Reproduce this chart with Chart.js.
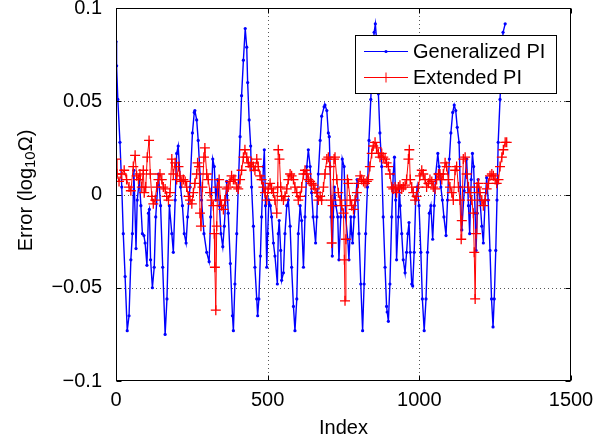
<!DOCTYPE html>
<html>
<head>
<meta charset="utf-8">
<script src="https://cdn.jsdelivr.net/npm/chart.js@4.4.1/dist/chart.umd.min.js"></script>
<style>
html, body { margin: 0; padding: 0; background: #fff; }
#wrap { width: 604px; height: 441px; }
</style>
</head>
<body>
<div id="wrap"><canvas id="errChart" width="604" height="441"></canvas></div>
<script>
// Error of the two PI estimators against sample index (MATLAB-style figure).

const BLUE = '#0000ff';
const RED = '#ff0000';
const FONT = "'Liberation Sans', Arial, Helvetica, sans-serif";

const X_TICKS = [0, 500, 1000, 1500];
const X_TICK_LABELS = ['0', '500', '1000', '1500'];
const Y_TICKS = [-0.1, -0.05, 0, 0.05, 0.1];
const Y_TICK_LABELS = ['\u22120.1', '\u22120.05', '0', '0.05', '0.1'];
const SERIES_NAMES = ['Generalized PI', 'Extended PI'];
const X_TITLE = 'Index';
const Y_TITLE = ['Error (log', '10', '\u03A9)'];   // main, subscript, rest

// Generalized PI
const GEN_IDX = [0,2,6,13,19,24,30,37,43,49,
  54,59,66,70,77,82,87,92,96,102,
  107,110,114,120,126,131,140,147,154,162,
  168,176,184,189,195,200,205,213,219,225,
  231,236,244,252,258,260,266,271,277,282,
  290,299,307,312,319,324,329,335,341,346,
  352,357,365,370,377,384,387,392,398,403,
  409,414,420,426,431,434,439,444,447,453,
  458,464,467,471,476,480,486,489,493,497,
  500,504,509,513,519,524,532,535,538,543,
  546,552,557,563,568,574,579,585,590,596,
  601,607,612,618,623,629,634,640,645,650,
  658,662,667,673,678,686,689,695,700,703,
  706,709,713,716,720,725,731,735,741,746,
  752,757,764,768,774,777,780,785,790,795,
  801,807,813,818,823,829,834,840,845,851,
  855,860,865,870,876,881,887,892,894,898,
  903,909,914,918,922,925,931,934,937,942,
  947,953,958,962,966,970,975,978,983,988,
  993,999,1005,1010,1016,1022,1027,1033,1038,1044,
  1049,1054,1061,1065,1071,1076,1081,1088,1093,1099,
  1104,1110,1115,1120,1125,1131,1135,1140,1148,1156,
  1162,1166,1171,1175,1179,1184,1187,1191,1194,1200,
  1206,1211,1217,1222,1227,1233,1238,1243,1247,1252,
  1256,1260,1266,1272,1276,1283];
const GEN_ERR = [0.082,0.069,0.051,0.028,0.004,-0.021,-0.044,-0.073,-0.065,-0.035,
  -0.021,0.013,-0.029,-0.003,0.008,-0.006,-0.021,-0.022,-0.026,-0.038,
  -0.010,-0.008,-0.035,-0.050,-0.039,-0.012,0.011,-0.006,-0.039,-0.075,
  -0.056,-0.006,-0.021,-0.031,-0.003,0.022,0.026,0.004,-0.006,-0.021,
  -0.026,-0.012,0.004,0.033,0.044,0.045,0.040,0.029,0.011,-0.003,
  -0.021,-0.031,-0.036,-0.012,0.019,0.015,-0.003,0.008,-0.006,-0.021,
  -0.028,-0.017,0.007,-0.010,-0.037,-0.065,-0.073,-0.048,-0.021,0.004,
  0.031,0.053,0.072,0.089,0.079,0.060,0.040,0.026,0.004,-0.017,
  -0.039,-0.056,-0.065,-0.056,-0.033,-0.012,0.015,0.024,-0.006,-0.039,
  -0.021,-0.003,-0.006,-0.012,-0.026,-0.033,-0.048,-0.021,-0.014,-0.030,
  -0.046,-0.042,-0.021,-0.006,-0.003,-0.017,-0.039,-0.060,-0.073,-0.056,
  -0.021,-0.006,-0.014,-0.039,-0.012,0.015,0.024,0.015,0.001,-0.012,
  -0.026,-0.012,0.011,0.029,0.042,0.047,0.048,0.045,0.033,0.031,
  0.015,-0.012,-0.033,-0.012,0.004,-0.006,-0.012,-0.035,-0.012,0.019,
  0.015,-0.012,-0.024,-0.035,-0.012,-0.021,-0.026,-0.012,-0.003,0.008,
  -0.021,-0.048,-0.073,-0.048,-0.021,0.004,0.029,0.051,0.072,0.087,
  0.0915,0.081,0.054,0.033,0.015,-0.012,-0.039,-0.060,-0.063,-0.068,
  -0.048,-0.012,0.011,0.020,-0.003,-0.035,-0.012,0.004,-0.006,-0.021,
  -0.035,-0.042,-0.031,-0.021,-0.015,-0.031,-0.048,-0.049,-0.031,-0.003,
  0.004,-0.006,-0.031,-0.056,-0.073,-0.056,-0.031,-0.010,-0.006,-0.024,
  -0.006,0.011,0.022,0.015,0.004,-0.003,-0.012,-0.022,-0.003,0.019,
  0.033,0.044,0.048,0.045,0.036,0.028,0.004,-0.019,0.002,0.019,
  -0.006,-0.021,0.008,0.022,0.015,-0.010,-0.030,-0.010,0.008,-0.003,
  -0.017,-0.026,-0.003,0.009,-0.003,-0.030,-0.056,-0.071,-0.056,-0.030,
  -0.003,0.028,0.051,0.072,0.087,0.0915];

// Extended PI
const EXT_IDX = [0,3,10,19,27,35,43,49,57,63,
  68,74,79,85,90,93,98,103,109,113,
  118,123,129,134,140,145,151,156,162,167,
  173,178,184,189,195,200,206,211,217,222,
  228,233,239,244,250,255,260,266,269,274,
  277,280,285,290,293,299,304,310,315,321,
  324,326,329,332,335,340,344,348,354,359,
  365,370,376,381,387,392,398,403,409,414,
  420,425,431,436,442,447,453,458,464,469,
  475,480,486,491,497,502,508,513,519,524,
  530,533,535,539,543,546,552,557,563,568,
  574,579,585,590,596,601,607,612,618,623,
  629,634,640,645,651,656,662,667,673,678,
  684,689,695,700,706,709,711,714,719,722,
  728,733,739,744,750,753,755,758,763,766,
  772,777,783,788,794,799,805,810,816,821,
  827,832,837,843,848,854,859,865,870,876,
  881,887,892,898,903,909,914,920,925,931,
  936,942,947,953,958,964,967,970,975,980,
  986,991,997,1002,1008,1013,1019,1024,1030,1035,
  1041,1046,1052,1057,1063,1068,1074,1079,1085,1090,
  1096,1101,1107,1112,1118,1123,1129,1134,1138,1140,
  1145,1151,1156,1162,1167,1173,1178,1181,1184,1187,
  1190,1195,1200,1206,1211,1217,1222,1228,1233,1239,
  1244,1250,1255,1261,1266,1272,1277,1283,1288];
const EXT_ERR = [0.019,0.011,0.007,0.011,0.013,0.008,0.004,0.002,0.015,0.021,
  0.010,0.008,0.011,0.004,0.013,0.001,0.004,0.020,0.029,0.011,
  -0.001,-0.005,-0.003,0.004,0.008,0.011,0.008,0.004,0.003,-0.001,
  -0.003,0.001,0.019,0.011,0.017,0.008,0.015,0.010,0.007,0.008,
  0.007,0.004,-0.001,-0.003,-0.005,0.001,0.006,0.011,0.017,0.015,
  -0.010,-0.017,0.004,0.020,0.025,0.011,0.008,0.001,-0.003,-0.006,
  -0.021,-0.039,-0.062,-0.017,0.004,0.008,-0.003,-0.006,-0.008,-0.003,
  0.003,0.004,0.007,0.010,0.008,0.008,0.004,0.003,0.008,0.013,
  0.020,0.024,0.020,0.017,0.015,0.017,0.015,0.013,0.019,0.015,
  0.010,0.008,0.004,0.001,-0.003,0.003,0.006,0.003,0.001,-0.003,
  -0.010,0.004,0.024,0.019,0.004,-0.001,-0.003,-0.001,0.003,0.008,
  0.011,0.010,0.008,0.004,0.001,-0.003,-0.001,0.004,0.011,0.013,
  0.011,0.008,0.007,0.006,0.005,0.003,0.001,-0.003,-0.001,-0.003,
  0.004,0.011,0.019,0.020,0.015,-0.003,-0.026,-0.006,0.019,0.020,
  0.008,0.001,-0.003,-0.006,-0.010,-0.035,-0.057,-0.024,0.008,0.006,
  -0.003,-0.006,-0.008,-0.003,0.001,0.006,0.010,0.008,0.007,0.006,
  0.007,0.008,0.015,0.022,0.026,0.028,0.025,0.022,0.020,0.022,
  0.020,0.019,0.017,0.015,0.011,0.004,0.003,0.004,0.001,0.004,
  0.005,0.003,0.004,0.005,0.008,0.019,0.024,0.008,0.004,0.001,
  -0.003,-0.001,0.004,0.010,0.013,0.011,0.008,0.004,0.006,0.008,
  0.007,0.004,0.003,0.008,0.011,0.011,0.008,0.011,0.017,0.015,
  0.008,0.004,0.001,-0.003,0.013,0.015,0.004,-0.003,-0.024,-0.014,
  0.019,0.020,0.011,0.004,0.001,-0.003,-0.010,-0.031,-0.056,-0.021,
  0.004,0.006,0.001,-0.003,-0.006,-0.003,0.003,0.006,0.010,0.011,
  0.010,0.008,0.006,0.008,0.015,0.020,0.024,0.028,0.028];

const pts = (xs, ys) => xs.map((x, i) => ({ x, y: ys[i] }));

// box, dotted grid, inward ticks, legend and axis titles drawn MATLAB-like
const matlabAxes = {
    id: 'matlabAxes',
    beforeDatasetsDraw(chart) {
        const { ctx, chartArea: a, scales: { x, y } } = chart;
        ctx.save();
        ctx.strokeStyle = '#555';
        ctx.lineWidth = 1;
        ctx.setLineDash([1, 3]);
        ctx.beginPath();
        X_TICKS.slice(1, -1).forEach(v => {
            const px = Math.round(x.getPixelForValue(v)) + 0.5;
            ctx.moveTo(px, a.top); ctx.lineTo(px, a.bottom);
        });
        Y_TICKS.slice(1, -1).forEach(v => {
            const py = Math.round(y.getPixelForValue(v)) + 0.5;
            ctx.moveTo(a.left, py); ctx.lineTo(a.right, py);
        });
        ctx.stroke();
        ctx.restore();
    },
    afterDatasetsDraw(chart) {
        const { ctx, chartArea: a, scales: { x, y } } = chart;
        const L = Math.round(a.left) + 0.5, R = Math.round(a.right) - 0.5;
        const T = Math.round(a.top) + 0.5, B = Math.round(a.bottom) - 0.5;
        ctx.save();
        ctx.strokeStyle = '#000';
        ctx.lineWidth = 1;
        ctx.strokeRect(L, T, R - L, B - T);
        ctx.beginPath();
        const tick = 5;
        X_TICKS.forEach(v => {
            const px = Math.round(x.getPixelForValue(v)) + 0.5;
            ctx.moveTo(px, B); ctx.lineTo(px, B - tick);
            ctx.moveTo(px, T); ctx.lineTo(px, T + tick);
        });
        Y_TICKS.forEach(v => {
            const py = Math.round(y.getPixelForValue(v)) + 0.5;
            ctx.moveTo(L, py); ctx.lineTo(L + tick, py);
            ctx.moveTo(R, py); ctx.lineTo(R - tick, py);
        });
        ctx.stroke();

        // axis titles
        ctx.fillStyle = '#000';
        ctx.font = '20px ' + FONT;
        ctx.textAlign = 'center';
        ctx.textBaseline = 'alphabetic';
        ctx.fillText(X_TITLE, (a.left + a.right) / 2, 434);

        ctx.translate(31.5, (a.top + a.bottom) / 2 - 4);
        ctx.rotate(-Math.PI / 2);
        ctx.textAlign = 'left';
        const subFont = '15px ' + FONT, mainFont = '20px ' + FONT;
        ctx.font = mainFont;
        const w0 = ctx.measureText(Y_TITLE[0]).width;
        const w2 = ctx.measureText(Y_TITLE[2]).width;
        ctx.font = subFont;
        const w1 = ctx.measureText(Y_TITLE[1]).width;
        let cx = -(w0 + w1 + w2) / 2;
        ctx.font = mainFont;
        ctx.fillText(Y_TITLE[0], cx, 0); cx += w0;
        ctx.font = subFont;
        ctx.fillText(Y_TITLE[1], cx, 3); cx += w1;
        ctx.font = mainFont;
        ctx.fillText(Y_TITLE[2], cx, 0);
        ctx.restore();
    },
    afterDraw(chart) {
        const { ctx } = chart;
        const box = { l: 355.5, t: 35.5, w: 201, h: 58 };
        ctx.save();
        ctx.fillStyle = '#fff';
        ctx.fillRect(box.l, box.t, box.w, box.h);
        ctx.strokeStyle = '#000';
        ctx.lineWidth = 1;
        ctx.strokeRect(box.l, box.t, box.w, box.h);
        ctx.font = '20px ' + FONT;
        ctx.textAlign = 'left';
        ctx.textBaseline = 'middle';
        chart.data.datasets.forEach((ds, i) => {
            const yy = Math.round(box.t + 15.5 + i * 26) + 0.5;
            ctx.strokeStyle = ds.borderColor;
            ctx.beginPath();
            ctx.moveTo(364, yy); ctx.lineTo(408, yy);
            ctx.stroke();
            if (ds.pointStyle === 'cross') {
                ctx.beginPath();
                ctx.moveTo(381, yy); ctx.lineTo(391, yy);
                ctx.moveTo(386, yy - 5); ctx.lineTo(386, yy + 5);
                ctx.stroke();
            } else {
                ctx.fillStyle = ds.borderColor;
                ctx.beginPath();
                ctx.arc(386, yy, 1.6, 0, Math.PI * 2);
                ctx.fill();
            }
            ctx.fillStyle = '#000';
            ctx.fillText(ds.label, 413, yy + 1);
        });
        ctx.restore();
    }
};

new Chart(document.getElementById('errChart'), {
    type: 'line',
    data: {
        datasets: [{
            label: SERIES_NAMES[0],
            data: pts(GEN_IDX, GEN_ERR),
            borderColor: BLUE,
            borderWidth: 1.4,
            pointStyle: 'circle',
            pointRadius: 1.6,
            pointBorderWidth: 0,
            pointBackgroundColor: BLUE,
            tension: 0,
            order: 2
        }, {
            label: SERIES_NAMES[1],
            data: pts(EXT_IDX, EXT_ERR),
            borderColor: RED,
            borderWidth: 1,
            pointStyle: 'cross',
            pointRadius: 5,
            pointBorderWidth: 1.3,
            pointBorderColor: RED,
            tension: 0,
            order: 1
        }]
    },
    options: {
        responsive: false,
        animation: false,
        devicePixelRatio: 1,
        layout: { padding: { left: 0, right: 33, top: 8, bottom: 0 } },
        plugins: { legend: { display: false }, tooltip: { enabled: false } },
        scales: {
            x: {
                type: 'linear',
                min: 0, max: 1500,
                grid: { display: false, drawTicks: false },
                border: { display: false },
                afterBuildTicks: s => { s.ticks = X_TICKS.map(v => ({ value: v })); },
                ticks: {
                    autoSkip: false, maxRotation: 0, padding: 7,
                    color: '#000', font: { family: FONT, size: 20 },
                    callback: (v, i) => X_TICK_LABELS[i]
                },
                afterFit: s => { s.height = 60; s.paddingLeft = 0; s.paddingRight = 0; }
            },
            y: {
                min: -0.1, max: 0.1,
                grid: { display: false, drawTicks: false },
                border: { display: false },
                afterBuildTicks: s => { s.ticks = Y_TICKS.map(v => ({ value: v })); },
                ticks: {
                    autoSkip: false, padding: 14,
                    color: '#000', font: { family: FONT, size: 20 },
                    callback: (v, i) => Y_TICK_LABELS[i]
                },
                afterFit: s => { s.width = 116; s.paddingTop = 0; s.paddingBottom = 0; }
            }
        }
    },
    plugins: [matlabAxes]
});
</script>
</body>
</html>
